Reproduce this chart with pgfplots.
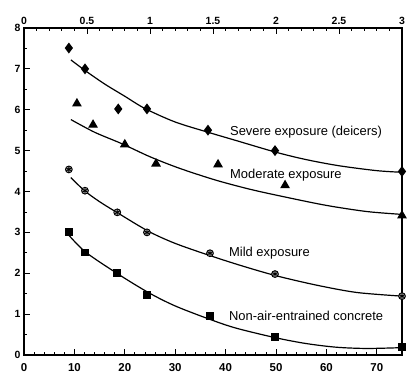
\documentclass[border=0pt]{standalone}
\usepackage{fontspec}
\setmainfont{Liberation Sans}
\usepackage{pgfplots}
\pgfplotsset{compat=1.18}
\pgfdeclareplotmark{circstar}{\pgfuseplotmark{*}\pgfuseplotmark{asterisk}}
\begin{document}
\begin{tikzpicture}
\begin{axis}[
  scale only axis, width=378bp, height=327bp,
  xmin=0, xmax=75, ymin=0, ymax=8,
  xtick={0,10,...,70}, ytick={0,1,...,8},
  minor x tick num=4, minor y tick num=1,
  xtick pos=bottom, ytick pos=left,
  tick align=inside,
  major tick length=6bp, minor tick length=3bp,
  axis line style={line width=1.2pt},
  every tick/.style={line width=0.8pt, black},
  tick label style={font=\bfseries\fontsize{10.5}{12}\selectfont},
  x tick label style={font=\bfseries\fontsize{11.5}{13}\selectfont, yshift=-5bp},
  /pgf/number format/assume math mode=true,
  every axis plot/.append style={line width=1.2pt, black},
  mark options={solid, fill=black},
]
% Severe exposure
\addplot[smooth, no marks] coordinates {(9.3,7.22)(12,6.97)(16,6.63)(20,6.33)(24,6.03)(30,5.7)(36.5,5.45)(42,5.25)(50,4.96)(56,4.78)(62.5,4.63)(70,4.51)(75,4.47)};
\addplot[only marks, mark=diamond*, mark size=4.5bp] coordinates {(8.9,7.51)(12.1,7.0)(18.7,6.02)(24.4,6.02)(36.5,5.5)(49.8,5.0)(75,4.49)};
% Moderate exposure
\addplot[smooth, no marks] coordinates {(9.3,5.76)(14,5.45)(19.4,5.17)(25,4.85)(30.8,4.57)(38,4.28)(45,4.05)(52,3.86)(60,3.66)(68,3.51)(75,3.44)};
\addplot[only marks, mark=triangle*, mark size=4.5bp] coordinates {(10.5,6.15)(13.7,5.63)(20,5.15)(26.2,4.68)(38.5,4.66)(51.8,4.15)(75,3.41)};
% Mild exposure
\addplot[smooth, no marks] coordinates {(9.3,4.34)(12,4.02)(15,3.75)(18.8,3.46)(24.8,3.02)(30,2.73)(36.7,2.44)(43,2.19)(50,1.94)(58,1.71)(66,1.53)(75,1.44)};
\addplot[only marks, mark=circstar, mark size=3.4bp, mark options={fill=gray!70, draw=black, line width=0.9pt}] coordinates {(8.9,4.54)(12.1,4.02)(18.5,3.49)(24.4,3.0)(36.9,2.49)(49.8,1.98)(75,1.44)};
% Non-air-entrained concrete
\addplot[smooth, no marks] coordinates {(8.9,2.93)(12.3,2.51)(18.8,1.97)(24.8,1.52)(30,1.2)(36.7,0.88)(42,0.66)(50,0.42)(56,0.28)(62,0.19)(68,0.16)(75,0.18)};
\addplot[only marks, mark=square*, mark size=3.3bp] coordinates {(8.9,3.0)(12.1,2.51)(18.5,2.0)(24.4,1.46)(36.9,0.95)(49.8,0.44)(75,0.2)};
\node[anchor=west, font=\fontsize{13}{15}\selectfont] at (axis cs:40.2,5.44) {Severe exposure (deicers)};
\node[anchor=west, font=\fontsize{13}{15}\selectfont] at (axis cs:40.2,4.39) {Moderate exposure};
\node[anchor=west, font=\fontsize{13}{15}\selectfont] at (axis cs:40.0,2.49) {Mild exposure};
\node[anchor=west, font=\fontsize{13}{15}\selectfont] at (axis cs:40.0,0.95) {Non-air-entrained concrete};
\end{axis}
\begin{axis}[
  scale only axis, width=378bp, height=327bp,
  xmin=0, xmax=3, ymin=0, ymax=8,
  axis x line*=top, axis y line=none,
  xtick={0,0.5,...,3}, minor x tick num=4,
  xticklabels={0,0.5,1,1.5,2,2.5,3},
  tick align=inside,
  major tick length=6bp, minor tick length=3bp,
  axis line style={line width=1.2pt},
  every tick/.style={line width=0.8pt, black},
  tick label style={font=\bfseries\fontsize{10.5}{12}\selectfont},
  /pgf/number format/assume math mode=true,
]
\end{axis}
\pgfresetboundingbox
\path (current axis.south west) ++(-24bp,-28bp) rectangle ++(407bp,383bp);
\end{tikzpicture}
\end{document}
